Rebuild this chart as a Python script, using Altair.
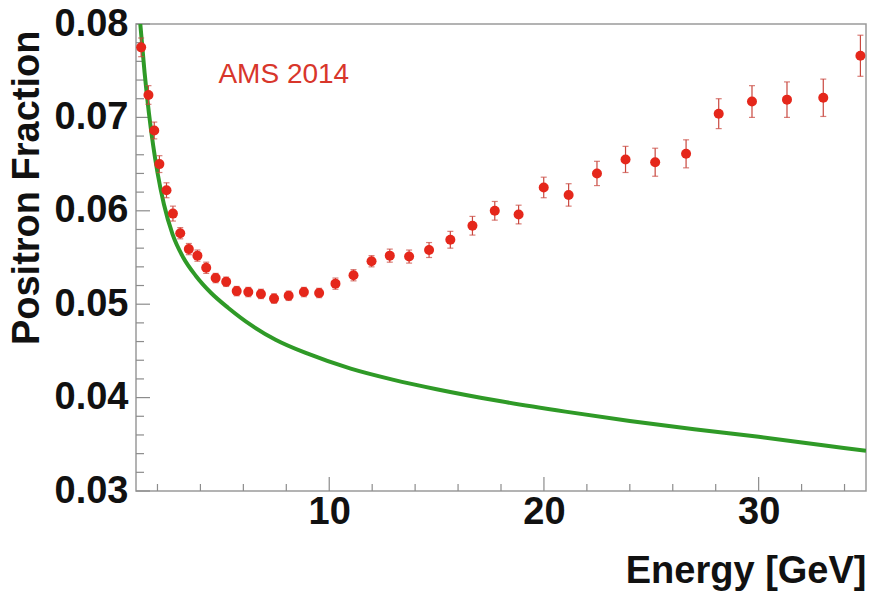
import altair as alt
import pandas as pd

# AMS 2014 positron fraction measurements
energy = [1.24, 1.58, 1.85, 2.09, 2.42, 2.72, 3.06, 3.46, 3.86, 4.27,
          4.71, 5.20, 5.69, 6.23, 6.82, 7.43, 8.11, 8.82, 9.53, 10.29,
          11.13, 11.97, 12.82, 13.72, 14.65, 15.64, 16.67, 17.71, 18.82, 19.99,
          21.15, 22.47, 23.80, 25.18, 26.62, 28.14, 29.69, 31.32, 33.01, 34.74]
fraction = [0.0775, 0.0724, 0.0686, 0.0650, 0.0622, 0.0597, 0.0576, 0.0559, 0.0552, 0.0539,
            0.0528, 0.0524, 0.0514, 0.0513, 0.0511, 0.0506, 0.0509, 0.0513, 0.0512, 0.0522,
            0.0531, 0.0546, 0.0552, 0.0551, 0.0558, 0.0569, 0.0584, 0.0600, 0.0596, 0.0625,
            0.0617, 0.0640, 0.0655, 0.0652, 0.0661, 0.0704, 0.0717, 0.0719, 0.0721, 0.0766]
error = [0.0010, 0.0010, 0.0009, 0.0009, 0.0008, 0.0008, 0.0006, 0.0006, 0.0006, 0.0006,
         0.0005, 0.0005, 0.0005, 0.0005, 0.0005, 0.0005, 0.0005, 0.0005, 0.0005, 0.0006,
         0.0006, 0.0006, 0.0007, 0.0007, 0.0008, 0.0009, 0.0010, 0.0010, 0.0010, 0.0011,
         0.0012, 0.0013, 0.0014, 0.0015, 0.0015, 0.0016, 0.0017, 0.0019, 0.0020, 0.0022]

# Secondary-production expectation
model_energy = [1.2, 1.4, 1.6, 1.8, 2.0, 2.3, 2.7, 3.2, 3.8, 4.5, 5.3, 6.4,
                7.5, 9, 11, 13, 15, 18, 21, 24, 27, 30, 33, 35]
model_fraction = [0.0800, 0.0748, 0.0705, 0.0670, 0.0641, 0.0607, 0.0575, 0.0550,
                  0.0530, 0.0512, 0.0496, 0.0477, 0.0462, 0.0447, 0.0431, 0.0419,
                  0.0409, 0.0396, 0.0385, 0.0375, 0.0366, 0.0358, 0.0349, 0.0343]

x_major = [10, 20, 30]
x_minor = [2, 4, 6, 8, 12, 14, 16, 18, 22, 24, 26, 28, 32, 34]
y_major = [0.03, 0.04, 0.05, 0.06, 0.07, 0.08]
y_minor = [0.032, 0.034, 0.036, 0.038, 0.042, 0.044, 0.046, 0.048,
           0.052, 0.054, 0.056, 0.058, 0.062, 0.064, 0.066, 0.068,
           0.072, 0.074, 0.076, 0.078]

W, H = 730, 467
FONT = "Liberation Sans"
RED = "#e5271b"
GREEN = "#2f9a27"
TICK = "#8c8c8c"

data = pd.DataFrame({"E": energy, "f": fraction, "err": error})
data["lo"] = data["f"] - data["err"]
data["hi"] = data["f"] + data["err"]
model = pd.DataFrame({"E": model_energy, "f": model_fraction})

xs = alt.Scale(domain=[1, 35], nice=False, zero=False)
ys = alt.Scale(domain=[0.03, 0.08], nice=False, zero=False)

x_axis = alt.Axis(values=x_major, format="d", ticks=False, domain=False, grid=False,
                  labelFont=FONT, labelFontSize=38, labelFontWeight="bold",
                  labelColor="#111", labelPadding=2,
                  title="Energy [GeV]", titleFont=FONT, titleFontSize=38,
                  titleFontWeight="bold", titleColor="#111",
                  titleAlign="right", titleAnchor="end", titleBaseline="alphabetic",
                  titleX=W, titleY=91)
y_axis = alt.Axis(values=y_major, format=".2f", ticks=False, domain=False, grid=False,
                  labelFont=FONT, labelFontSize=38, labelFontWeight="bold",
                  labelColor="#111", labelPadding=8,
                  title="Positron Fraction", titleFont=FONT, titleFontSize=38,
                  titleFontWeight="bold", titleColor="#111",
                  titleAngle=-90, titleAlign="right", titleBaseline="alphabetic",
                  titleX=-98, titleY=6)

model_line = alt.Chart(model).mark_line(
    color=GREEN, strokeWidth=4, interpolate="monotone", clip=True
).encode(
    x=alt.X("E:Q", scale=xs, axis=x_axis),
    y=alt.Y("f:Q", scale=ys, axis=y_axis),
)

bars = alt.Chart(data).mark_rule(color="#c9473e", strokeWidth=1.2).encode(
    x="E:Q", y="lo:Q", y2="hi:Q"
)
caps_lo = alt.Chart(data).mark_tick(color="#c9473e", thickness=1.2, size=6, orient="horizontal").encode(
    x="E:Q", y="lo:Q"
)
caps_hi = alt.Chart(data).mark_tick(color="#c9473e", thickness=1.2, size=6, orient="horizontal").encode(
    x="E:Q", y="hi:Q"
)
points = alt.Chart(data).mark_circle(color=RED, size=100, opacity=1).encode(
    x="E:Q", y="f:Q"
)

# inward-pointing tick marks along the bottom and left edges
xmaj = alt.Chart(pd.DataFrame({"v": x_major})).mark_rule(color=TICK, strokeWidth=1.2).encode(
    x="v:Q", y=alt.value(H), y2=alt.value(H - 14)
)
xmin = alt.Chart(pd.DataFrame({"v": x_minor})).mark_rule(color=TICK, strokeWidth=1.2).encode(
    x="v:Q", y=alt.value(H), y2=alt.value(H - 7)
)
ymaj = alt.Chart(pd.DataFrame({"v": y_major})).mark_rule(color=TICK, strokeWidth=1.2).encode(
    y="v:Q", x=alt.value(0), x2=alt.value(14)
)
ymin = alt.Chart(pd.DataFrame({"v": y_minor})).mark_rule(color=TICK, strokeWidth=1.2).encode(
    y="v:Q", x=alt.value(0), x2=alt.value(8)
)

label = alt.Chart(pd.DataFrame({"t": ["AMS 2014"]})).mark_text(
    font=FONT, fontSize=28, color="#d8362b", align="left", baseline="alphabetic"
).encode(x=alt.datum(4.84), y=alt.datum(0.0737), text="t:N")

chart = alt.layer(
    xmaj, xmin, ymaj, ymin, model_line, bars, caps_lo, caps_hi, points, label
).properties(
    width=W, height=H,
    padding={"left": 136, "top": 24, "right": 7, "bottom": 102},
    autosize=alt.AutoSizeParams(type="none"),
    background="white",
).configure_view(stroke="#9a9a9a", strokeWidth=1.5)

chart.save("out.html", embed_options={"renderer": "svg", "actions": False})
